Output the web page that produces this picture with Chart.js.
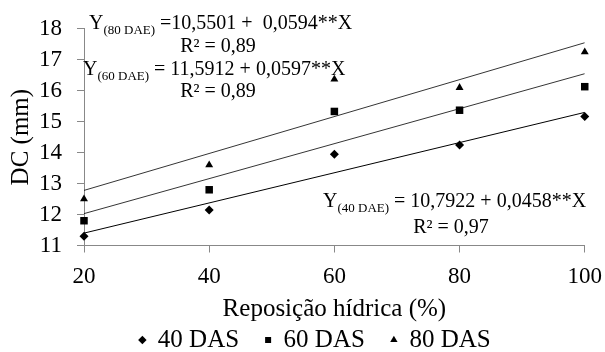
<!DOCTYPE html>
<html>
<head>
<meta charset="utf-8">
<script src="https://cdn.jsdelivr.net/npm/chart.js@4"></script>
<style>
  html, body { margin: 0; padding: 0; background: #fff; }
</style>
</head>
<body>
<canvas id="chart" width="605" height="352"></canvas>
<script>
// Data
const reposicao = [20, 40, 60, 80, 100];
const das40 = [11.3, 12.15, 13.95, 14.25, 15.17];
const das60 = [11.8, 12.8, 15.33, 15.37, 16.13];
const das80 = [12.5, 13.6, 16.37, 16.1, 17.25];

// fitted lines, ends read at x = 20 and x = 100
const fitX  = [20, 100];
const fit40 = [11.4, 15.3];
const fit60 = [12.03, 16.55];
const fit80 = [12.78, 17.55];

const seriesNames = ["40 DAS", "60 DAS", "80 DAS"];

const serif = "Liberation Serif";
const axisGray = "#888888";

Chart.defaults.font.family = serif;
Chart.defaults.color = "#000";

function pts(xs, ys) {
  return xs.map(function(x, i) { return { x: x, y: ys[i] }; });
}

// equations written inside the plot
const equations = [
  { x: 89,  y: 29,  sub: "(80 DAE)", rest: " =10,5501 +  0,0594**X" },
  { x: 83,  y: 75,  sub: "(60 DAE)", rest: " = 11,5912 + 0,0597**X" },
  { x: 323, y: 207, sub: "(40 DAE)", rest: " = 10,7922 + 0,0458**X" }
];
const r2Labels = [
  { x: 218, y: 52,  text: "R\u00b2 = 0,89" },
  { x: 218, y: 97,  text: "R\u00b2 = 0,89" },
  { x: 451, y: 233, text: "R\u00b2 = 0,97" }
];

const equationPlugin = {
  id: "equations",
  afterDraw: function(chart) {
    const ctx = chart.ctx;
    ctx.save();
    ctx.fillStyle = "#000";
    ctx.textBaseline = "alphabetic";
    equations.forEach(function(e) {
      ctx.textAlign = "left";
      ctx.font = "20px '" + serif + "'";
      ctx.fillText("Y", e.x, e.y);
      let w = ctx.measureText("Y").width;
      ctx.font = "13px '" + serif + "'";
      ctx.fillText(e.sub, e.x + w, e.y + 5);
      w += ctx.measureText(e.sub).width;
      ctx.font = "20px '" + serif + "'";
      ctx.fillText(e.rest, e.x + w, e.y);
    });
    r2Labels.forEach(function(r) {
      ctx.textAlign = "center";
      ctx.font = "20px '" + serif + "'";
      ctx.fillText(r.text, r.x, r.y);
    });
    ctx.restore();
  }
};

function scatterSet(i, values, style, radius) {
  return {
    label: seriesNames[i],
    data: pts(reposicao, values),
    pointStyle: style,
    pointRadius: radius,
    backgroundColor: "#000",
    borderColor: "#000",
    borderWidth: 0,
    clip: false
  };
}

function fitSet(name, values, width) {
  return {
    label: name,
    type: "line",
    data: pts(fitX, values),
    borderColor: "#000",
    borderWidth: width,
    pointRadius: 0
  };
}

const ctx = document.getElementById("chart").getContext("2d");

const chart = new Chart(ctx, {
  type: "scatter",
  data: {
    datasets: [
      scatterSet(0, das40, "rectRot", 4.5),
      scatterSet(1, das60, "rect", 5.3),
      scatterSet(2, das80, "triangle", 4.6),
      fitSet("fit40", fit40, 1),
      fitSet("fit60", fit60, 0.8),
      fitSet("fit80", fit80, 0.8)
    ]
  },
  options: {
    responsive: false,
    animation: false,
    layout: { padding: { left: 25, right: 0, top: 28, bottom: 0 } },
    plugins: {
      tooltip: { enabled: false },
      legend: {
        position: "bottom",
        maxHeight: 50.5,
        labels: {
          filter: function(item) { return item.datasetIndex < 3; },
          usePointStyle: true,
          boxWidth: 6,
          boxHeight: 6,
          padding: 26,
          color: "#000",
          font: { family: serif, size: 25 }
        }
      }
    },
    scales: {
      x: {
        type: "linear",
        min: 20,
        max: 100,
        ticks: { stepSize: 20, color: "#000", padding: 3, font: { family: serif, size: 23, lineHeight: 1.9 } },
        grid: { drawOnChartArea: false, color: axisGray, tickLength: 7 },
        border: { color: axisGray, width: 1 },
        title: {
          display: true,
          text: "Reposição hídrica (%)",
          color: "#000",
          padding: { top: 0, bottom: -23 },
          font: { family: serif, size: 25 }
        },
        afterFit: function(scale) { scale.height = 56; }
      },
      y: {
        min: 11,
        max: 18,
        ticks: { stepSize: 1, color: "#000", padding: 15, font: { family: serif, size: 23 } },
        grid: { drawOnChartArea: false, color: axisGray, tickLength: 7 },
        border: { color: axisGray, width: 1 },
        title: {
          display: true,
          text: "DC (mm)",
          color: "#000",
          padding: { top: -19, bottom: 0 },
          font: { family: serif, size: 25 }
        },
        afterFit: function(scale) { scale.width = 59; }
      }
    }
  },
  plugins: [equationPlugin]
});
</script>
</body>
</html>
